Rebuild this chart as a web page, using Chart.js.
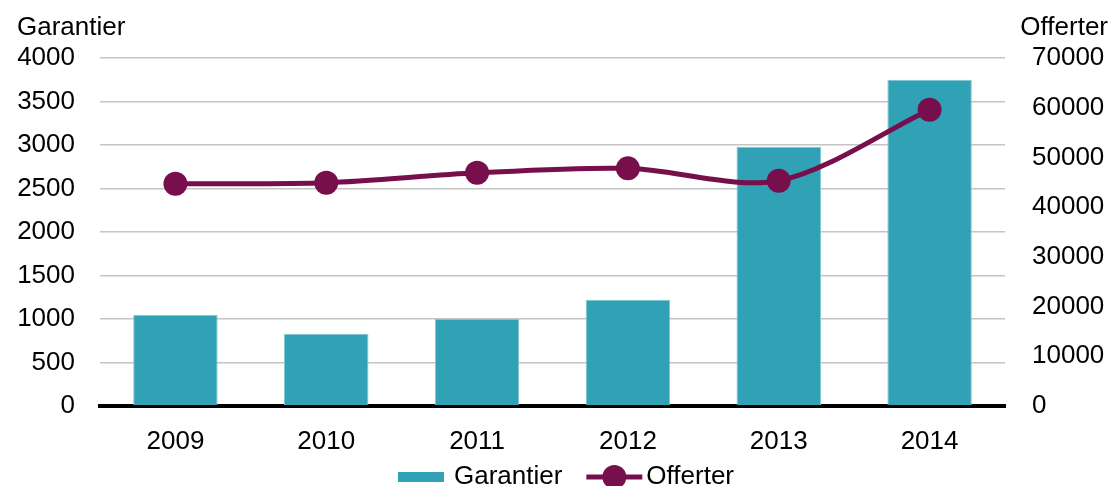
<!DOCTYPE html>
<html>
<head>
<meta charset="utf-8">
<script src="https://cdn.jsdelivr.net/npm/chart.js@4/dist/chart.umd.min.js"></script>
<style>
  html, body { margin: 0; padding: 0; background: #fff; }
  #wrap { width: 1111px; height: 486px; position: relative; }
</style>
</head>
<body>
<div id="wrap"><canvas id="chart"></canvas></div>
<script>
const years = ["2009", "2010", "2011", "2012", "2013", "2014"];
const garantier = [1050, 830, 1000, 1220, 2980, 3750];
const offerter = [44700, 44900, 46900, 47800, 45300, 59600];
const leftTitle = "Garantier";
const rightTitle = "Offerter";

const FONT = "Liberation Sans, Arial, sans-serif";
const BAR_COLOR = "#31a1b5";
const LINE_COLOR = "#760f4b";

// axis titles above the two y axes + bottom legend
const extras = {
  id: "extras",
  afterDraw(chart) {
    const c = chart.ctx;
    c.save();
    c.font = "26px " + FONT;
    c.fillStyle = "#000";
    c.textBaseline = "middle";
    c.textAlign = "left";
    c.fillText(leftTitle, 17, 28);
    c.textAlign = "right";
    c.fillText(rightTitle, 1108, 28);

    // legend
    const y = 477;
    const w1 = c.measureText(chart.data.datasets[1].label).width;
    const w2 = c.measureText(chart.data.datasets[0].label).width;
    const total = 46 + 10 + w1 + 24 + 56 + 4 + w2;
    let x = 566 - total / 2;
    c.textAlign = "left";
    c.fillStyle = BAR_COLOR;
    c.fillRect(x, y - 5, 46, 10);
    x += 56;
    c.fillStyle = "#000";
    c.fillText(chart.data.datasets[1].label, x, y);
    x += w1 + 24;
    c.strokeStyle = LINE_COLOR;
    c.lineWidth = 5;
    c.beginPath();
    c.moveTo(x, y);
    c.lineTo(x + 56, y);
    c.stroke();
    c.fillStyle = LINE_COLOR;
    c.beginPath();
    c.arc(x + 28, y, 12, 0, Math.PI * 2);
    c.fill();
    x += 60;
    c.fillStyle = "#000";
    c.fillText(chart.data.datasets[0].label, x, y);
    c.restore();
  }
};

const plain = v => String(v);

new Chart(document.getElementById("chart"), {
  data: {
    labels: years,
    datasets: [
      {
        type: "line",
        label: "Offerter",
        data: offerter,
        yAxisID: "y1",
        borderColor: LINE_COLOR,
        backgroundColor: LINE_COLOR,
        borderWidth: 5,
        pointRadius: 12,
        pointHoverRadius: 12,
        pointBackgroundColor: LINE_COLOR,
        pointBorderWidth: 0,
        tension: 0.3,
        order: 0
      },
      {
        type: "bar",
        label: "Garantier",
        data: garantier,
        yAxisID: "y",
        backgroundColor: BAR_COLOR,
        borderColor: "#7fc6d2",
        borderWidth: 1,
        barPercentage: 0.56,
        categoryPercentage: 1,
        order: 1
      }
    ]
  },
  options: {
    responsive: true,
    maintainAspectRatio: false,
    animation: false,
    layout: { padding: { top: 58, left: 0, right: 0, bottom: 0 } },
    plugins: {
      legend: { display: false },
      tooltip: { enabled: false }
    },
    scales: {
      x: {
        grid: { display: false, drawTicks: false },
        border: { display: true, color: "#000", width: 4 },
        ticks: { color: "#000", font: { family: FONT, size: 26 }, padding: 20 },
        afterFit: s => { s.height = 80; }
      },
      y: {
        position: "left",
        min: 0,
        max: 4000,
        ticks: { stepSize: 500, color: "#000", font: { family: FONT, size: 26 }, padding: 25, callback: plain },
        grid: { color: "#c4c4c4", lineWidth: 1.5, drawTicks: false },
        border: { display: false },
        afterFit: s => { s.width = 100; }
      },
      y1: {
        position: "right",
        min: 0,
        max: 70000,
        ticks: { stepSize: 10000, color: "#000", font: { family: FONT, size: 26 }, padding: 27, callback: plain },
        grid: { display: false, drawTicks: false },
        border: { display: false },
        afterFit: s => { s.width = 106; }
      }
    }
  },
  plugins: [extras]
});
</script>
</body>
</html>
